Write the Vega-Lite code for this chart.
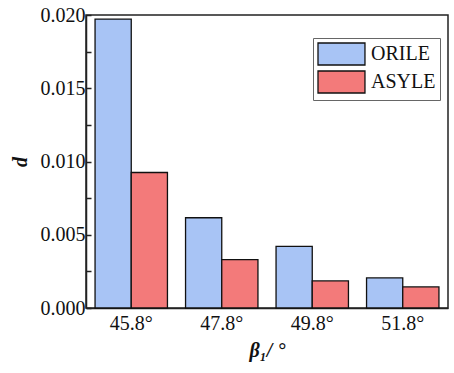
{
  "$schema": "https://vega.github.io/schema/vega-lite/v6.json",
  "width": 362,
  "height": 293,
  "autosize": "none",
  "padding": {"left": 86, "top": 15, "right": 6, "bottom": 65},
  "background": "white",
  "config": {
    "font": "Liberation Serif",
    "axis": {"labelFont": "Liberation Serif", "titleFont": "Liberation Serif"},
    "legend": {"labelFont": "Liberation Serif", "titleFont": "Liberation Serif"},
    "view": {"stroke": "#222", "strokeWidth": 1.5}
  },
  "data": {
    "values": [
      {"angle": "45.8°", "series": "ORILE", "d": 0.01972},
      {"angle": "45.8°", "series": "ASYLE", "d": 0.00925},
      {"angle": "47.8°", "series": "ORILE", "d": 0.00616},
      {"angle": "47.8°", "series": "ASYLE", "d": 0.0033},
      {"angle": "49.8°", "series": "ORILE", "d": 0.0042},
      {"angle": "49.8°", "series": "ASYLE", "d": 0.00185},
      {"angle": "51.8°", "series": "ORILE", "d": 0.00205},
      {"angle": "51.8°", "series": "ASYLE", "d": 0.00144}
    ]
  },
  "mark": {"type": "bar", "stroke": "#111", "strokeWidth": 1.3},
  "encoding": {
    "x": {
      "field": "angle",
      "type": "nominal",
      "sort": null,
      "scale": {"paddingInner": 0.2, "paddingOuter": 0.1},
      "axis": {
        "title": "β₁/ °",
        "titleFont": "Liberation Serif",
        "titleFontSize": 20,
        "titleFontWeight": "bold",
        "titleFontStyle": "italic",
        "titleColor": "#111",
        "titlePadding": 7,
        "labelFont": "Liberation Serif",
        "labelAngle": 0,
        "labelFontSize": 20,
        "labelColor": "#111",
        "labelPadding": 5,
        "ticks": false,
        "domainColor": "#222",
        "domainWidth": 1.5
      }
    },
    "xOffset": {"field": "series", "type": "nominal", "sort": ["ORILE", "ASYLE"]},
    "y": {
      "field": "d",
      "type": "quantitative",
      "scale": {"domain": [0, 0.02], "nice": false},
      "axis": {
        "title": "d",
        "titleFont": "Liberation Serif",
        "titleFontSize": 20,
        "titleFontWeight": "bold",
        "titleFontStyle": "italic",
        "titleColor": "#111",
        "titlePadding": 10,
        "values": [0, 0.0025, 0.005, 0.0075, 0.01, 0.0125, 0.015, 0.0175, 0.02],
        "labelExpr": "round(datum.value*400) % 2 == 0 ? format(datum.value, '.3f') : ''",
        "labelFont": "Liberation Serif",
        "labelFontSize": 20,
        "labelColor": "#111",
        "labelPadding": 6,
        "tickSize": -5,
        "tickColor": "#222",
        "tickWidth": 1.5,
        "grid": false,
        "domainColor": "#222",
        "domainWidth": 1.5,
        "encode": {
          "ticks": {
            "update": {
              "x2": {"signal": "round(datum.value*400) % 2 == 0 ? 5 : 3"}
            }
          }
        }
      }
    },
    "fill": {
      "field": "series",
      "type": "nominal",
      "sort": ["ORILE", "ASYLE"],
      "scale": {"domain": ["ORILE", "ASYLE"], "range": ["#A8C4F5", "#F37A7A"]},
      "legend": {
        "title": null,
        "orient": "none",
        "legendX": 227,
        "legendY": 23,
        "symbolType": "M-1,-1H3.27V1H-1Z",
        "symbolSize": 484,
        "symbolStrokeColor": "#111",
        "symbolStrokeWidth": 1.3,
        "labelFont": "Liberation Serif",
        "labelFontSize": 20,
        "labelColor": "#111",
        "labelOffset": 30,
        "rowPadding": 0,
        "padding": 4,
        "strokeColor": "#666",
        "fillColor": "white"
      }
    }
  }
}
